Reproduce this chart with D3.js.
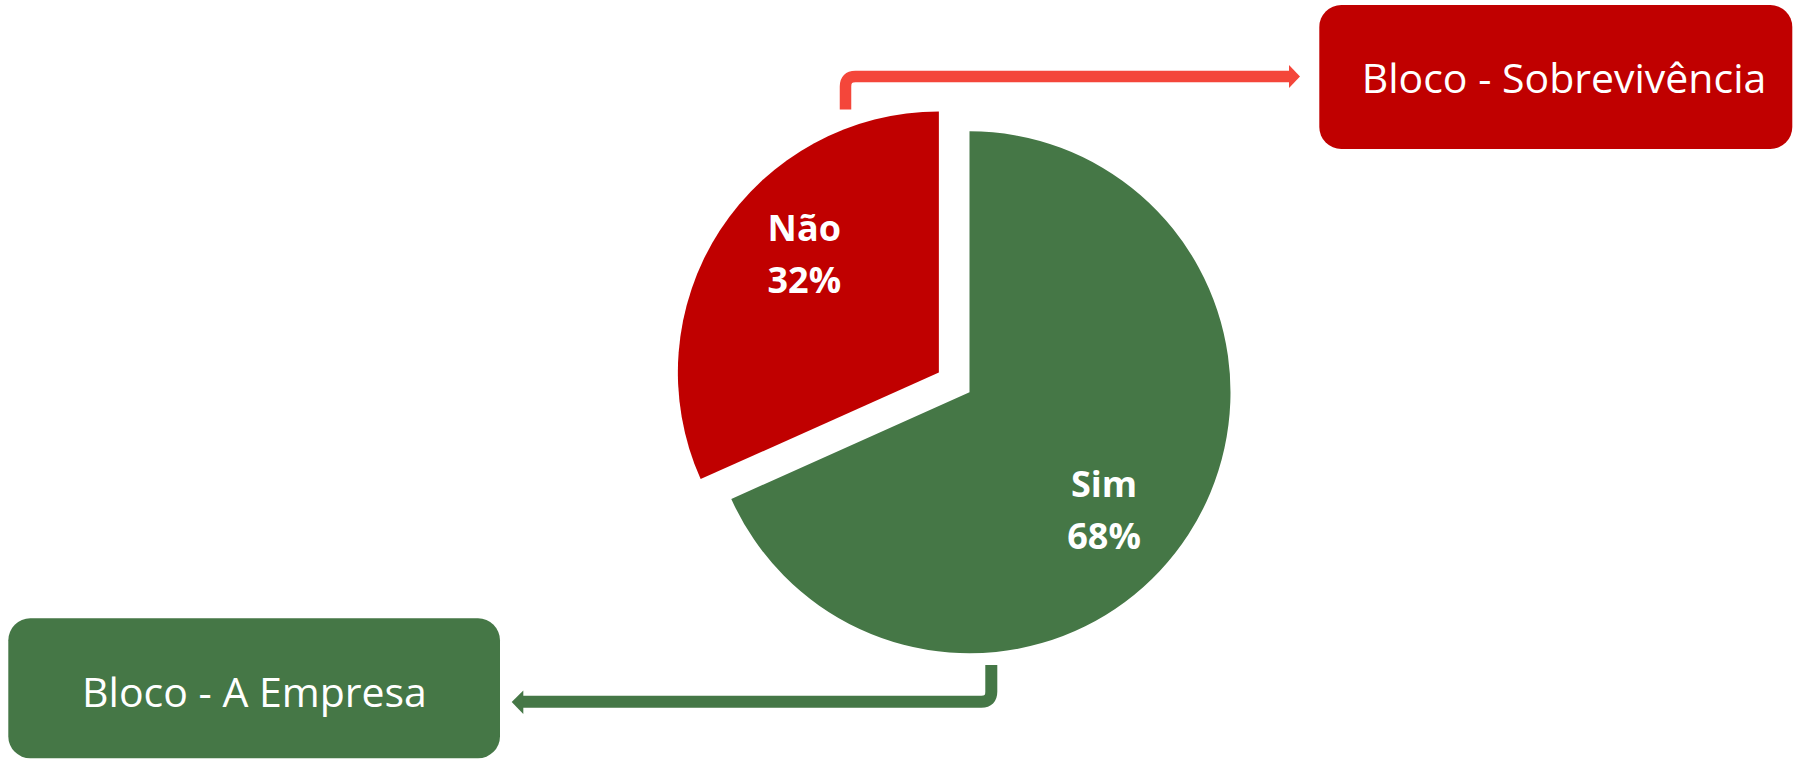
<!DOCTYPE html>
<html>
<head>
<meta charset="utf-8">
<script src="https://cdn.jsdelivr.net/npm/d3@7"></script>
<style>
  html, body { margin: 0; padding: 0; background: #ffffff; }
  svg { display: block; }
</style>
</head>
<body>
<svg id="chart" width="1793" height="760"></svg>
<script>
// ---- data ----
const categories = ["Sim", "Não"];
const values = [68.3, 31.7];
const valueLabels = ["68%", "32%"];
const sliceColors = ["#457746", "#C00000"];
const blockLabels = ["Bloco - A Empresa", "Bloco - Sobrevivência"];
const explodedCategory = "Não";

// ---- layout ----
const W = 1793, H = 760;
const cx = 969.5, cy = 392.3, R = 261;
const explode = 36.5;
const labelR = 179, labelShift = 8.3 * Math.PI / 180;

const svg = d3.select("#chart");

const pie = d3.pie().sort(null).value(d => d.value);
const arcs = pie(categories.map((c, i) => ({ cat: c, value: values[i], label: valueLabels[i], color: sliceColors[i] })));
const arc = d3.arc().innerRadius(0).outerRadius(R);

const g = svg.append("g").attr("transform", `translate(${cx},${cy})`);

const slices = g.selectAll("g.slice").data(arcs).join("g")
  .attr("class", "slice")
  .attr("transform", d => {
    if (d.data.cat !== explodedCategory) return null;
    const m = (d.startAngle + d.endAngle) / 2;
    return `translate(${explode * Math.sin(m)},${-explode * Math.cos(m)})`;
  });

slices.append("path")
  .attr("d", arc)
  .attr("fill", d => d.data.color);

slices.each(function(d) {
  const m = (d.startAngle + d.endAngle) / 2 + labelShift;
  const x = labelR * Math.sin(m), y = -labelR * Math.cos(m);
  const t = d3.select(this).append("text")
    .attr("text-anchor", "middle")
    .attr("font-family", "'Open Sans', sans-serif")
    .attr("font-weight", 700)
    .attr("font-size", 36)
    .attr("fill", "#ffffff");
  t.append("tspan").attr("x", x).attr("y", y - 13.5).text(d.data.cat);
  t.append("tspan").attr("x", x).attr("y", y + 39).text(d.data.label);
});

// ---- blocks ----
const boxes = [
  { label: blockLabels[0], color: sliceColors[0], x: 8.3, y: 618.3, w: 491.7, h: 140, tx: 254.5, ty: 706.7 },
  { label: blockLabels[1], color: sliceColors[1], x: 1319.3, y: 5, w: 473, h: 144, tx: 1564, ty: 93.3 }
];
svg.selectAll("rect.box").data(boxes).join("rect")
  .attr("class", "box")
  .attr("x", d => d.x).attr("y", d => d.y)
  .attr("width", d => d.w).attr("height", d => d.h)
  .attr("rx", 22).attr("ry", 22)
  .attr("fill", d => d.color);
svg.selectAll("text.box").data(boxes).join("text")
  .attr("class", "box")
  .attr("x", d => d.tx).attr("y", d => d.ty)
  .attr("text-anchor", "middle")
  .attr("font-family", "'Open Sans', sans-serif")
  .attr("font-size", 41)
  .attr("fill", "#ffffff")
  .text(d => d.label);

// ---- connectors ----
const connectors = [
  { color: "#F4463A", width: 11.5,
    path: "M845.5,109.5 L845.5,86.5 Q845.5,76.5 855.5,76.5 L1290,76.5",
    head: "M1289,65 L1300,76.5 L1289,88 Z" },
  { color: "#457746", width: 12,
    path: "M991.3,665 L991.3,691.8 Q991.3,701.8 981.3,701.8 L522,701.8",
    head: "M523.3,690.5 L511.7,702 L523.3,714 Z" }
];
connectors.forEach(c => {
  svg.append("path").attr("d", c.path).attr("fill", "none")
    .attr("stroke", c.color).attr("stroke-width", c.width);
  svg.append("path").attr("d", c.head).attr("fill", c.color);
});
</script>
</body>
</html>
